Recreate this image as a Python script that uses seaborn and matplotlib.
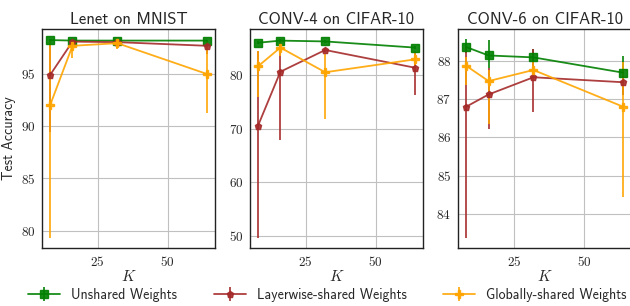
import matplotlib

matplotlib.use('Agg')
import matplotlib.pyplot as plt
import numpy as np
import seaborn as sns

K = [8, 16, 32, 64]
titles = ["Lenet on MNIST", "CONV-4 on CIFAR-10", "CONV-6 on CIFAR-10"]
labels = ["Unshared Weights", "Layerwise-shared Weights", "Globally-shared Weights"]

# Lenet on MNIST: mean, lower, upper
lenet_unshared = [98.25, 98.2, 98.2, 98.2]
lenet_unshared_lo = [98.1, 98.05, 98.05, 98.05]
lenet_unshared_hi = [98.35, 98.3, 98.3, 98.3]
lenet_layer = [94.9, 98.1, 98.05, 97.7]
lenet_layer_lo = [89.4, 97.8, 97.8, 96.9]
lenet_layer_hi = [98.3, 98.3, 98.3, 98.3]
lenet_global = [92.0, 97.7, 97.95, 95.0]
lenet_global_lo = [79.3, 96.5, 97.4, 91.3]
lenet_global_hi = [98.3, 98.2, 98.35, 98.3]

# CONV-4 on CIFAR-10
conv4_unshared = [86.0, 86.4, 86.25, 85.1]
conv4_unshared_lo = [85.7, 86.1, 86.0, 84.8]
conv4_unshared_hi = [86.3, 86.7, 86.5, 85.4]
conv4_layer = [70.5, 80.6, 84.65, 81.35]
conv4_layer_lo = [49.6, 67.8, 84.2, 76.2]
conv4_layer_hi = [84.5, 86.7, 85.1, 84.0]
conv4_global = [81.6, 85.1, 80.5, 82.9]
conv4_global_lo = [75.9, 83.5, 71.7, 81.0]
conv4_global_hi = [84.5, 86.5, 83.9, 84.5]

# CONV-6 on CIFAR-10
conv6_unshared = [88.36, 88.14, 88.09, 87.69]
conv6_unshared_lo = [88.2, 87.8, 87.9, 87.1]
conv6_unshared_hi = [88.57, 88.54, 88.32, 88.13]
conv6_layer = [86.8, 87.12, 87.57, 87.44]
conv6_layer_lo = [83.37, 86.21, 86.65, 87.1]
conv6_layer_hi = [88.4, 87.82, 88.3, 87.7]
conv6_global = [87.87, 87.47, 87.76, 86.8]
conv6_global_lo = [87.37, 86.34, 87.5, 84.43]
conv6_global_hi = [88.1, 87.75, 88.0, 87.98]

panels = [
    [(lenet_unshared, lenet_unshared_lo, lenet_unshared_hi),
     (lenet_layer, lenet_layer_lo, lenet_layer_hi),
     (lenet_global, lenet_global_lo, lenet_global_hi)],
    [(conv4_unshared, conv4_unshared_lo, conv4_unshared_hi),
     (conv4_layer, conv4_layer_lo, conv4_layer_hi),
     (conv4_global, conv4_global_lo, conv4_global_hi)],
    [(conv6_unshared, conv6_unshared_lo, conv6_unshared_hi),
     (conv6_layer, conv6_layer_lo, conv6_layer_hi),
     (conv6_global, conv6_global_lo, conv6_global_hi)],
]

colors = ["green", "#a52a2a", "orange"]
markers = ["s", "p", "P"]
msizes = [6, 5, 6]

sns.set_style("whitegrid", {"axes.edgecolor": "#222222", "grid.color": "#c0c0c0"})
plt.rcParams['font.family'] = ['cmr10', 'DejaVu Serif']
plt.rcParams['mathtext.fontset'] = 'cm'
plt.rcParams['axes.formatter.use_mathtext'] = True

fig = plt.figure(figsize=(6.3, 3.06), dpi=100)
lefts = [0.067, 0.397, 0.7275]
axes = [fig.add_axes([l, 0.19, 0.274, 0.715]) for l in lefts]

handles = []
for ax, title, series in zip(axes, titles, panels):
    for (m, lo, hi), c, mk, ms, lab in zip(series, colors, markers, msizes, labels):
        m = np.array(m)
        yerr = [m - np.array(lo), np.array(hi) - m]
        h = ax.errorbar(K, m, yerr=yerr, color=c, marker=mk, markersize=ms,
                        linewidth=1.3, elinewidth=1.3, alpha=0.9, label=lab)
        if ax is axes[0]:
            handles.append(h)
    ax.set_title(title, family='cmss10', fontsize=12, pad=4)
    ax.set_xlabel("$K$", fontsize=11, labelpad=0)
    ax.set_xticks([25, 50])
    ax.tick_params(labelsize=9.5, pad=1.5)
    for s in ax.spines.values():
        s.set_linewidth(1.0)

axes[0].set_ylabel("Test Accuracy", family='cmss10', fontsize=10)
axes[0].yaxis.set_label_coords(-0.15, 0.5)
axes[0].set_yticks([80, 85, 90, 95])
axes[1].set_yticks([50, 60, 70, 80])
axes[2].set_yticks([84, 85, 86, 87, 88])

fig.legend(handles, labels, loc='center left', ncol=3, frameon=False,
           bbox_to_anchor=(0.044, 0.036), prop={'family': 'cmss10', 'size': 10},
           columnspacing=2.65, handlelength=2.3, handletextpad=0.8,
           borderpad=0.0, borderaxespad=0.0)

fig.savefig("out.png", dpi=100)
